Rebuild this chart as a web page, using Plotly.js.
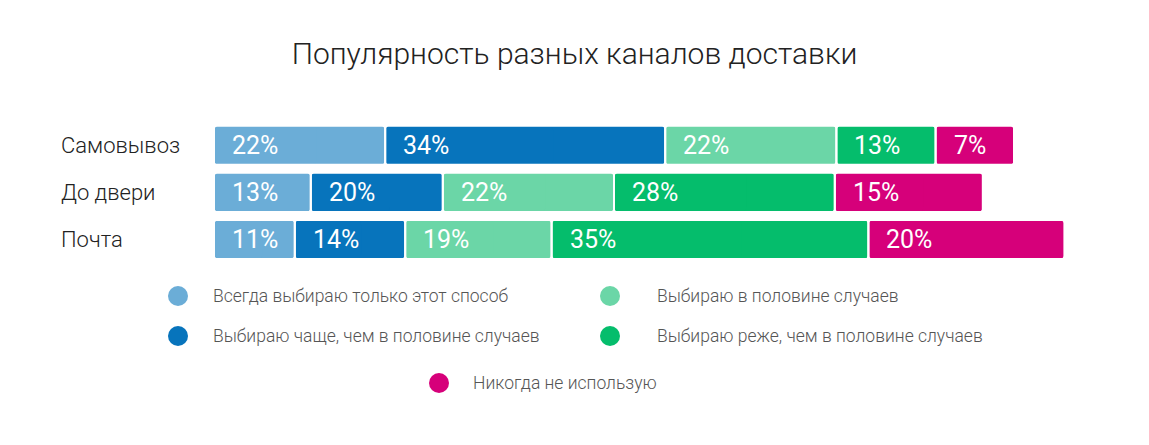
<!DOCTYPE html>
<html>
<head>
<meta charset="utf-8">
<script src="https://cdn.plot.ly/plotly-3.0.1.min.js"></script>
<style>html,body{margin:0;padding:0;background:#fff;}#chart{width:1149px;height:445px;}</style>
</head>
<body>
<div id="chart"></div>
<script>
// ---- data ----
const categories = ['Самовывоз', 'До двери', 'Почта'];
const seriesNames = [
  'Всегда выбираю только этот способ',
  'Выбираю чаще, чем в половине случаев',
  'Выбираю в половине случаев',
  'Выбираю реже, чем в половине случаев',
  'Никогда не использую'
];
// bar lengths
const alwaysVals = [21.4, 12.1, 10.1];
const oftenVals  = [35.0, 16.5, 13.8];
const halfVals   = [21.4, 21.4, 18.3];
const rarelyVals = [12.4, 27.6, 39.6];
const neverVals  = [9.8, 18.5, 24.5];
// printed labels
const alwaysLbl = ['22%', '13%', '11%'];
const oftenLbl  = ['34%', '20%', '14%'];
const halfLbl   = ['22%', '22%', '19%'];
const rarelyLbl = ['13%', '28%', '35%'];
const neverLbl  = ['7%', '15%', '20%'];

const colors = ['#6badd7', '#0774bc', '#6bd6a7', '#05bd6c', '#d6007a'];

// ---- layout constants ----
const W = 1149, H = 445;
const PX_PER_UNIT = 8;
const plotLeft = 214;
const rowTop = 121.8, rowBottom = 263;
// legend slots: [markerX, markerY, textX]
const legendSpots = [[178, 296, 212], [610, 296, 656], [178, 336, 212], [610, 336, 656], [439, 383, 472]];
const legendOrder = [0, 2, 1, 3, 4];

const values = [alwaysVals, oftenVals, halfVals, rarelyVals, neverVals];
const labels = [alwaysLbl, oftenLbl, halfLbl, rarelyLbl, neverLbl];

const traces = [];
const annotations = [];
const starts = values.map(() => []);
categories.forEach((c, i) => {
  let cum = 0;
  values.forEach((v, s) => { starts[s][i] = cum; cum += v[i]; });
});

const barWidth = 0.83;
const RADIUS = 5;
values.forEach((v, s) => {
  // right-rounded piece: from 40% of segment to its end
  traces.push({
    type: 'bar', orientation: 'h', xaxis: 'x', yaxis: 'y',
    y: categories, x: v.map(val => val * 0.6), base: v.map((val, i) => starts[s][i] + val * 0.4),
    width: barWidth,
    marker: { color: colors[s], cornerradius: RADIUS, line: { width: 0 } },
    hoverinfo: 'skip', showlegend: false, textposition: 'none'
  });
  // left-rounded piece: from 60% of segment back to its start
  traces.push({
    type: 'bar', orientation: 'h', xaxis: 'x', yaxis: 'y',
    y: categories, x: v.map(val => -val * 0.6), base: v.map((val, i) => starts[s][i] + val * 0.6),
    width: barWidth,
    marker: { color: colors[s], cornerradius: RADIUS, line: { width: 0 } },
    hoverinfo: 'skip', showlegend: false, textposition: 'none'
  });
});
// white separators
values.forEach((v, s) => {
  traces.push({
    type: 'bar', orientation: 'h', xaxis: 'x', yaxis: 'y',
    y: categories, x: v, base: starts[s], width: barWidth,
    marker: { color: 'rgba(0,0,0,0)', cornerradius: 0, line: { width: 2, color: '#ffffff' } },
    hoverinfo: 'skip', showlegend: false, textposition: 'none'
  });
  v.forEach((val, i) => {
    annotations.push({
      xref: 'x', yref: 'y', x: starts[s][i], y: categories[i],
      xanchor: 'left', yanchor: 'middle', xshift: 16, showarrow: false,
      text: labels[s][i],
      font: { family: 'Roboto', size: 25, color: '#ffffff', weight: 400 }
    });
  });
});

// category labels
categories.forEach(c => {
  annotations.push({
    xref: 'paper', yref: 'y', x: 59 / W, y: c, xanchor: 'left', yanchor: 'middle',
    showarrow: false, text: c,
    font: { family: 'Roboto', size: 22, color: '#222222', weight: 300 }
  });
});

// legend
traces.push({
  type: 'scatter', mode: 'markers', xaxis: 'x2', yaxis: 'y2',
  x: legendSpots.map(p => p[0]),
  y: legendSpots.map(p => p[1]),
  marker: { size: 20, color: legendOrder.map(k => colors[k]) },
  hoverinfo: 'skip', showlegend: false
});
legendOrder.forEach((k, j) => {
  annotations.push({
    xref: 'x2', yref: 'y2', x: legendSpots[j][2], y: legendSpots[j][1],
    xanchor: 'left', yanchor: 'middle', xshift: -1, showarrow: false,
    text: seriesNames[k],
    font: { family: 'Roboto', size: 17.5, color: '#555555', weight: 300 }
  });
});

const layout = {
  width: W, height: H,
  margin: { l: 0, r: 0, t: 0, b: 0, pad: 0 },
  paper_bgcolor: '#ffffff', plot_bgcolor: 'rgba(0,0,0,0)',
  barmode: 'overlay',
  showlegend: false,
  title: {
    text: 'Популярность разных каналов доставки',
    x: 0.5, xanchor: 'center', y: 1 - 53 / H, yanchor: 'middle', yref: 'container',
    font: { family: 'Roboto', size: 30, color: '#222222', weight: 300 }
  },
  xaxis: {
    domain: [plotLeft / W, 1], range: [0, (W - plotLeft) / PX_PER_UNIT],
    visible: false, fixedrange: true, anchor: 'y'
  },
  yaxis: {
    domain: [(H - rowBottom) / H, (H - rowTop) / H],
    type: 'category', categoryarray: categories, range: [2.5, -0.5],
    visible: false, fixedrange: true, anchor: 'x'
  },
  xaxis2: { domain: [0, 1], range: [0, W], visible: false, anchor: 'y2', fixedrange: true },
  yaxis2: { domain: [0, 1], range: [H, 0], visible: false, anchor: 'x2', fixedrange: true },
  annotations: annotations
};

Plotly.newPlot('chart', traces, layout, { displayModeBar: false, staticPlot: true });
</script>
</body>
</html>
